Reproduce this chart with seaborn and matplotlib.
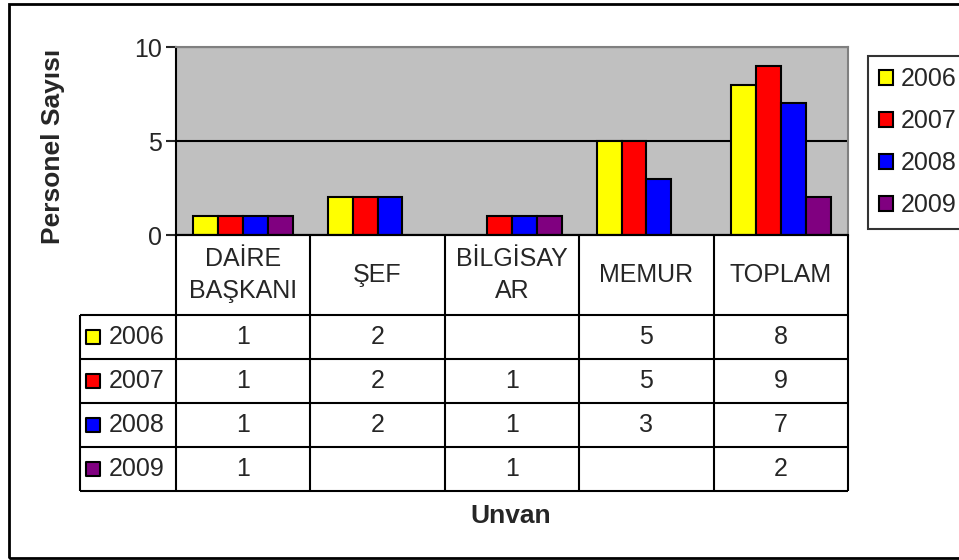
import numpy as np
import pandas as pd
import matplotlib.pyplot as plt
import seaborn as sns
from matplotlib.patches import Patch, Rectangle

# ----------------------------------------------------------------------------------------------
# Data
# ----------------------------------------------------------------------------------------------
unvanlar = ["DAİRE BAŞKANI", "ŞEF", "BİLGİSAYAR", "MEMUR", "TOPLAM"]
baslik_etiketleri = ["DAİRE\nBAŞKANI", "ŞEF", "BİLGİSAY\nAR", "MEMUR", "TOPLAM"]
yillar = ["2006", "2007", "2008", "2009"]
sayi_2006 = [1, 2, np.nan, 5, 8]
sayi_2007 = [1, 2, 1, 5, 9]
sayi_2008 = [1, 2, 1, 3, 7]
sayi_2009 = [1, np.nan, 1, np.nan, 2]
renkler = ["#FFFF00", "#FF0000", "#0000FF", "#800080"]

seriler = [sayi_2006, sayi_2007, sayi_2008, sayi_2009]
df = pd.DataFrame({
    "Unvan": unvanlar * len(yillar),
    "Yil": [y for y in yillar for _ in unvanlar],
    "Sayi": [v for s in seriler for v in s],
})

# ----------------------------------------------------------------------------------------------
# Figure
# ----------------------------------------------------------------------------------------------
sns.set_style("white")
plt.rcParams["font.family"] = ["Liberation Sans", "DejaVu Sans"]
FS = 18

W, H = 959, 560
fig = plt.figure(figsize=(W / 100, H / 100), dpi=100)


def px(x0, y0, x1, y1):
    return [x0 / W, 1 - y1 / H, (x1 - x0) / W, (y1 - y0) / H]


# outer border
fig.patches.append(Rectangle((9 / W, 1 - 558 / H), 2, (558 - 4) / H,
                             transform=fig.transFigure, fill=False,
                             edgecolor="black", linewidth=2))

ax = fig.add_axes(px(176, 47, 848, 235))
ax.set_facecolor("#C0C0C0")
sns.barplot(data=df, x="Unvan", y="Sayi", hue="Yil", order=unvanlar, hue_order=yillar,
            palette=renkler, width=0.74, edgecolor="black", linewidth=1.5,
            saturation=1, legend=False, ax=ax)
ax.set_xlim(-0.5, 4.5)
ax.set_ylim(0, 10)
ax.set_yticks([0, 5, 10])
ax.set_xticks([])
ax.set_xlabel("")
ax.set_ylabel("")
ax.set_axisbelow(True)
ax.yaxis.grid(True, color="black", linewidth=1.5)
ax.tick_params(axis="y", left=True, length=7, width=1.5, direction="out", labelsize=FS, pad=3)
for s in ["top", "right"]:
    ax.spines[s].set_color("#808080")
    ax.spines[s].set_linewidth(1.5)
for s in ["left", "bottom"]:
    ax.spines[s].set_color("black")
    ax.spines[s].set_linewidth(1.5)

fig.text(53 / W, 1 - 146 / H, "Personel Sayısı", rotation=90, ha="center", va="center",
         fontsize=19, fontweight="bold")
fig.text(511 / W, 1 - 516 / H, "Unvan", ha="center", va="center",
         fontsize=19, fontweight="bold")

# legend
handles = [Patch(facecolor=c, edgecolor="black", linewidth=1.5, label=y) for c, y in zip(renkler, yillar)]
leg = fig.legend(handles=handles, loc="upper left", bbox_to_anchor=(868 / W, 1 - 56 / H),
                 frameon=True, fancybox=False, fontsize=FS, handlelength=0.55, handleheight=0.55,
                 handletextpad=0.3, labelspacing=0.72, borderpad=0.45, borderaxespad=0)
leg.get_frame().set_edgecolor("black")
leg.get_frame().set_linewidth(1.5)

# ----------------------------------------------------------------------------------------------
# Data table
# ----------------------------------------------------------------------------------------------
lab_w = 96 / 134.4
hdr = 80 / 44
axt = fig.add_axes(px(80, 235, 848, 491))
axt.set_xlim(-0.5 - lab_w, 4.5)
axt.set_ylim(hdr + len(yillar), 0)
axt.axis("off")

lw = 1.5
n = len(yillar)
for i in range(n + 1):
    axt.hlines(hdr + i, -0.5 - lab_w, 4.5, color="black", linewidth=lw, clip_on=False)
axt.hlines(0, -0.5, 4.5, color="black", linewidth=lw, clip_on=False)
axt.vlines(-0.5 - lab_w, hdr, hdr + n, color="black", linewidth=lw, clip_on=False)
for j in range(len(unvanlar) + 1):
    axt.vlines(-0.5 + j, 0, hdr + n, color="black", linewidth=lw, clip_on=False)

for j, lab in enumerate(baslik_etiketleri):
    axt.text(j, hdr / 2, lab, ha="center", va="center", fontsize=FS, linespacing=1.4)

for i, (yil, renk, seri) in enumerate(zip(yillar, renkler, seriler)):
    yc = hdr + i + 0.5
    axt.scatter([-0.5 - lab_w + 13 / 134.4], [yc], marker="s", s=95, color=renk,
                edgecolor="black", linewidth=1.5, clip_on=False, zorder=3)
    axt.text(-0.5 - lab_w + 29 / 134.4, yc, yil, ha="left", va="center", fontsize=FS)
    for j, v in enumerate(seri):
        if not np.isnan(v):
            axt.text(j, yc, f"{int(v)}", ha="center", va="center", fontsize=FS)

plt.savefig("out.png", dpi=100)
plt.close()
